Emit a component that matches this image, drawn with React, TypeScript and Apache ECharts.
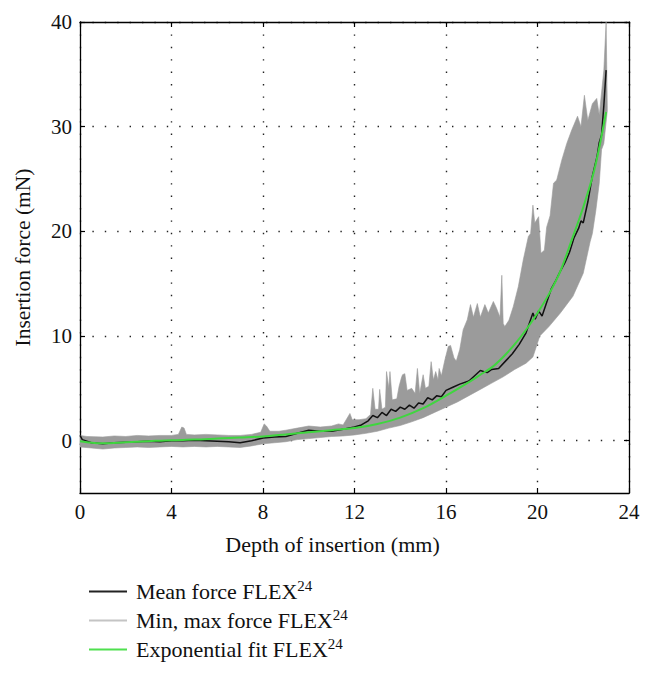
import React, { useEffect, useRef } from "react";
import * as echarts from "echarts";

const xTickValues = [0, 4, 8, 12, 16, 20, 24];
const yTickValues = [0, 10, 20, 30, 40];

const legendNames = ["Mean force FLEX", "Min, max force FLEX", "Exponential fit FLEX"];

const fitDepth = [0, 0.5, 1, 2, 3, 4, 5, 6, 7, 8, 9, 10, 11, 12, 13, 14, 15, 16, 17, 17.5, 18, 18.5, 19, 19.5, 20, 20.5, 21, 21.5, 22, 22.5, 23];
const fitForce = [-0.05, -0.2, -0.25, -0.15, -0.05, 0.05, 0.1, 0.2, 0.3, 0.4, 0.6, 0.8, 1.0, 1.2, 1.6, 2.2, 3.1, 4.3, 5.6, 6.3, 7.0, 8.0, 9.2, 10.6, 12.2, 14.0, 16.2, 19.2, 22.3, 26.0, 31.4];

const meanDepth = [0, 0.1, 0.5, 1, 1.5, 2, 2.5, 3, 3.5, 4, 4.5, 5, 5.5, 6, 6.5, 7, 7.5, 8, 8.5, 9, 9.5, 10, 10.5, 11, 11.5, 12, 12.3, 12.6, 12.8, 13, 13.2, 13.4, 13.6, 13.8, 14, 14.2, 14.4, 14.6, 14.8, 15, 15.2, 15.4, 15.6, 15.8, 16, 16.3, 16.6, 17, 17.3, 17.5, 17.8, 18, 18.3, 18.6, 18.9, 19.2, 19.5, 19.8, 19.9, 20.05, 20.2, 20.4, 20.6, 20.8, 21, 21.2, 21.4, 21.6, 21.8, 21.9, 22, 22.2, 22.4, 22.6, 22.7, 22.8, 22.9, 23];
const meanForce = [0.5, 0.1, -0.2, -0.3, -0.2, -0.15, -0.1, -0.05, -0.1, 0.0, 0.0, 0.05, 0.0, -0.05, -0.1, -0.2, 0.0, 0.25, 0.35, 0.4, 0.7, 1.0, 0.9, 0.9, 1.1, 1.3, 1.5, 1.9, 2.4, 2.2, 2.7, 2.4, 3.0, 2.8, 3.2, 3.0, 3.4, 3.1, 3.6, 3.5, 4.1, 3.9, 4.3, 4.2, 4.8, 5.1, 5.4, 5.7, 6.3, 6.7, 6.5, 6.8, 6.9, 7.6, 8.3, 9.2, 10.3, 12.2, 11.6, 12.4, 11.9, 13.2, 14.5, 15.3, 16.2, 17.0, 18.0, 19.4, 20.3, 21.0, 20.8, 22.8, 25.3, 27.1, 28.5, 29.2, 32.0, 35.4];

const maxDepth = [0, 0.3, 1, 1.5, 2, 2.5, 3, 3.5, 4, 4.3, 4.45, 4.55, 4.65, 5, 5.5, 6, 6.5, 7, 7.5, 7.9, 8.05, 8.15, 8.3, 8.7, 9, 9.5, 10, 10.5, 11, 11.3, 11.5, 11.8, 11.9, 12.2, 12.5, 12.7, 12.8, 12.9, 13.05, 13.1, 13.2, 13.35, 13.4, 13.5, 13.55, 13.65, 13.85, 13.95, 14.05, 14.1, 14.2, 14.3, 14.5, 14.65, 14.75, 14.85, 15.0, 15.1, 15.25, 15.35, 15.45, 15.55, 15.65, 15.7, 15.8, 15.95, 16.1, 16.2, 16.35, 16.45, 16.6, 16.75, 16.93, 17.07, 17.2, 17.37, 17.5, 17.7, 17.85, 18.07, 18.2, 18.36, 18.44, 18.5, 18.57, 18.75, 18.94, 19.16, 19.38, 19.6, 19.7, 19.8, 19.88, 20.05, 20.15, 20.3, 20.4, 20.55, 20.7, 20.84, 21.06, 21.28, 21.5, 21.75, 21.9, 22.05, 22.2, 22.4, 22.59, 22.7, 22.9, 23.0, 23.05];
const maxForce = [0.5, 0.4, 0.35, 0.45, 0.4, 0.5, 0.45, 0.5, 0.5, 0.6, 1.3, 1.2, 0.6, 0.55, 0.6, 0.55, 0.5, 0.5, 0.6, 0.8, 1.6, 1.4, 0.9, 0.9, 1.0, 1.2, 1.4, 1.3, 1.4, 1.6, 1.5, 2.6, 2.0, 2.0, 2.1, 2.5, 5.0, 3.0, 3.0, 4.9, 3.0, 3.2, 6.6, 5.0, 6.6, 3.9, 4.0, 5.2, 6.0, 6.3, 6.4, 4.8, 5.0, 4.5, 6.9, 4.5, 6.3, 5.0, 5.2, 7.55, 5.8, 6.6, 5.8, 6.9, 6.2, 7.7, 9.0, 9.1, 7.9, 7.6, 8.7, 10.6, 11.55, 13.0, 11.8, 13.1, 11.8, 13.0, 12.2, 13.3, 12.7, 11.8, 15.8, 11.2, 10.9, 11.5, 12.8, 14.7, 17.3, 19.5, 19.8, 22.5, 20.8, 21.4, 17.9, 18.2, 20.4, 21.5, 24.6, 24.9, 26.8, 28.4, 29.7, 31.0, 30.0, 33.0, 30.6, 32.2, 32.7, 31.1, 35.4, 40.0, 32.0];

const minDepth = [0, 0.5, 1, 1.5, 2, 2.5, 3, 3.5, 4, 4.5, 5, 5.5, 6, 6.5, 7, 7.5, 8, 8.5, 9, 9.5, 10, 10.5, 11, 11.5, 12, 12.5, 13, 13.5, 14, 14.5, 15, 15.5, 16, 16.5, 17, 17.5, 18, 18.5, 19, 19.5, 19.8, 20.1, 20.5, 21, 21.55, 22.0, 22.3, 22.4, 22.55, 22.7, 22.8, 22.9, 23.05];
const minForce = [-0.6, -0.7, -0.8, -0.7, -0.65, -0.6, -0.65, -0.6, -0.55, -0.6, -0.55, -0.6, -0.55, -0.6, -0.65, -0.5, -0.3, -0.2, -0.1, 0.1, 0.2, 0.3, 0.4, 0.45, 0.55, 0.7, 0.9, 1.2, 1.45, 1.8, 2.2, 2.7, 3.2, 3.7, 4.3, 4.9, 5.5, 6.1, 6.8, 7.4, 8.0, 10.0, 10.9, 12.2, 13.8, 16.0, 19.0, 19.8, 22.0, 24.6, 27.8, 28.4, 31.5];

const pairs = (xs: number[], ys: number[]) => xs.map((x, i) => [x, ys[i]]);

export default function App() {
  const ref = useRef<HTMLDivElement>(null);
  useEffect(() => {
    if (!ref.current) return;
    const chart = echarts.init(ref.current, null, { renderer: "svg" });
    const font = "Liberation Serif";
    const dotted = { color: "#222", width: 1.4, type: [1.4, 11] };
    const maxPts = pairs(maxDepth, maxForce);
    const minPts = pairs(minDepth, minForce);
    const axisLine = { show: true, onZero: false, lineStyle: { color: "#000", width: 1.3 } };
    const tick = { show: true, inside: true, length: 5, lineStyle: { color: "#000", width: 1.2 } };
    const tickLabel = { color: "#111", fontFamily: font, fontSize: 21 };
    const nameStyle = { color: "#111", fontFamily: font, fontSize: 22 };
    const option: any = {
      animation: false,
      backgroundColor: "#fff",
      grid: { left: 80, right: 25, top: 22, bottom: 183 },
      xAxis: [
        {
          type: "value", min: 0, max: 24, interval: 4, position: "bottom",
          axisLine, axisTick: tick,
          axisLabel: { ...tickLabel, margin: 8, customValues: xTickValues },
          splitLine: { show: true, lineStyle: dotted },
          name: "Depth of insertion (mm)", nameLocation: "middle", nameGap: 40,
          nameTextStyle: { ...nameStyle, padding: [0, 44, 0, 0] },
        },
        {
          type: "value", min: 0, max: 24, interval: 4, position: "top",
          axisLine, axisTick: tick, axisLabel: { show: false }, splitLine: { show: false },
        },
      ],
      yAxis: [
        {
          type: "value", min: -5, max: 40, position: "left",
          axisLine, axisTick: { ...tick, customValues: yTickValues },
          axisLabel: { ...tickLabel, margin: 8, customValues: yTickValues },
          splitLine: { show: true, lineStyle: dotted },
          name: "Insertion force (mN)", nameLocation: "middle", nameGap: 46,
          nameTextStyle: { ...nameStyle, fontSize: 21.5 },
        },
        {
          type: "value", min: -5, max: 40, position: "right",
          axisLine, axisTick: { ...tick, customValues: yTickValues },
          axisLabel: { show: false, customValues: yTickValues }, splitLine: { show: false },
        },
      ],
      legend: {
        orient: "vertical", left: 84, top: 573, icon: "rect",
        itemWidth: 38, itemHeight: 2, itemGap: 4,
        data: [
          { name: legendNames[0], itemStyle: { color: "#222" } },
          { name: legendNames[1], itemStyle: { color: "#c4c4c4" } },
          { name: legendNames[2], itemStyle: { color: "#4fe04f" } },
        ],
        formatter: (n: string) => `{gap|}${n}{sup|24}`,
        textStyle: {
          fontFamily: font, fontSize: 22, color: "#111", lineHeight: 23,
          rich: {
            gap: { width: 4 },
            sup: { fontFamily: font, fontSize: 15, padding: [0, 0, 12, 0] },
          },
        },
      },
      series: [
        {
          name: legendNames[1], type: "custom", xAxisIndex: 0, yAxisIndex: 0,
          itemStyle: { color: "#c4c4c4" }, z: 2, clip: true,
          data: [[0, 0]],
          renderItem: (params: any, api: any) => {
            if (params.dataIndex !== 0) return null;
            const pts = [
              ...maxPts.map((p) => api.coord(p)),
              ...minPts.slice().reverse().map((p) => api.coord(p)),
            ];
            return {
              type: "polygon",
              shape: { points: pts },
              style: { fill: "#9b9b9b", stroke: "#9b9b9b", lineWidth: 0.6 },
            };
          },
        },
        {
          name: legendNames[0], type: "line", data: pairs(meanDepth, meanForce),
          showSymbol: false, symbol: "none", z: 3,
          lineStyle: { color: "#111", width: 1.5 }, itemStyle: { color: "#111" },
        },
        {
          name: legendNames[2], type: "line", data: pairs(fitDepth, fitForce), smooth: 0.3,
          showSymbol: false, symbol: "none", z: 4,
          lineStyle: { color: "#3fd63f", width: 2 }, itemStyle: { color: "#3fd63f" },
        },
      ],
    };
    chart.setOption(option);
    return () => chart.dispose();
  }, []);
  return (
    <div
      ref={ref}
      style={{ position: "absolute", left: 0, top: 0, width: 654, height: 676 }}
    />
  );
}
